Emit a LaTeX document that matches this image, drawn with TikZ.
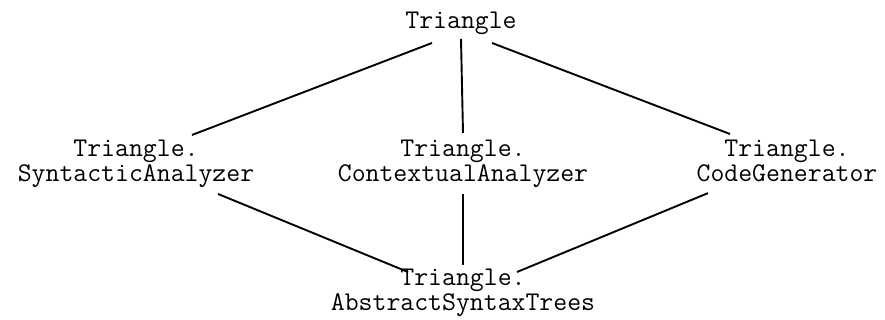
\documentclass[tikz,border=0pt]{standalone}
\usepackage{fontspec}
\usepackage{tikz}
\usetikzlibrary{positioning}
\tikzset{
  pkg/.style ={inner sep=1pt,align=center,anchor=north,
               font=\ttfamily\fontsize{13.5}{12.5}\selectfont},
  dep/.style ={line width=0.95pt,draw=black}
}

\begin{document}
\begin{tikzpicture}[x=0.5pt,y=-0.5pt]
        \useasboundingbox (0,0) rectangle (885,320);
        \node[pkg] (tri) at (461,9.5) {Triangle};
        \node[pkg] (syn) at (136,137.5) {Triangle.\\SyntacticAnalyzer};
        \node[pkg] (ctx) at (463,137.5) {Triangle.\\ContextualAnalyzer};
        \node[pkg] (gen) at (787,137.5) {Triangle.\\CodeGenerator};
        \node[pkg] (ast) at (463,266.5) {Triangle.\\AbstractSyntaxTrees};
        \draw[dep] ([xshift=-14.5pt,yshift=-3pt]tri.south) -- ([xshift=28pt,yshift=1.25pt]syn.north);
        \draw[dep] ([yshift=-1pt]tri.south) -- ([yshift=2.25pt]ctx.north);
        \draw[dep] ([xshift=15.5pt,yshift=-3pt]tri.south) -- ([xshift=-28.5pt,yshift=1.75pt]gen.north);
        \draw[dep] ([xshift=41pt,yshift=-2pt]syn.south) -- ([xshift=-27.5pt,yshift=-2.75pt]ast.north);
        \draw[dep] ([yshift=-2pt]ctx.south) -- ([yshift=0.75pt]ast.north);
        \draw[dep] ([xshift=-39.5pt,yshift=-4.5pt]gen.south) -- ([xshift=27pt,yshift=-2.75pt]ast.north);
      \end{tikzpicture}
\end{document}
